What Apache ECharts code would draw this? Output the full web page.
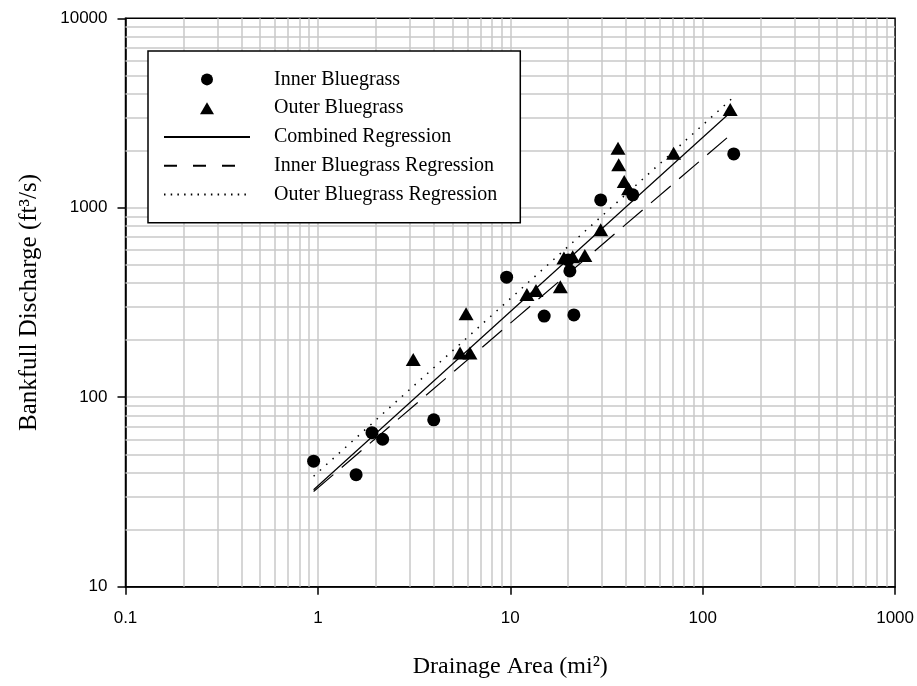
<!DOCTYPE html>
<html><head><meta charset="utf-8">
<script src="https://cdn.jsdelivr.net/npm/echarts@6/dist/echarts.min.js"></script>
<style>html,body{margin:0;padding:0;background:#fff}#c{width:917px;height:686px}</style>
</head><body><div id="c"></div><script>
// Inner Bluegrass observations (drainage area mi², bankfull discharge ft³/s)
const innerArea = [0.95, 1.58, 1.91, 2.17, 4.0, 9.57, 15.0, 21.4, 20.4, 20.0, 29.5, 43.3, 145];
const innerQ    = [46,   39,   65,   60,   76,  430,  268,  272,  464,  530,  1100, 1170, 1925];
// Outer Bluegrass observations
const outerArea = [3.13, 5.89, 5.48, 6.17, 12.2, 13.6, 18.2, 19.0, 21.1, 24.4, 29.5, 36.3, 36.6, 39.1, 41.2, 70.6, 139];
const outerQ    = [158,  276,  171,  171,  348,  366,  383,  543,  552,  559,  766,  2060, 1685, 1375, 1260, 1940, 3300];
// Regression lines (end points)
const combinedArea = [0.95, 140];
const combinedQ    = [32.5, 3200];
const innerRegArea = [0.95, 145];
const innerRegQ    = [31.8, 2510];
const outerRegArea = [0.95, 142];
const outerRegQ    = [38.3, 3770];
// Axis labels and minor grid values
const xTickLabels = ['0.1', '1', '10', '100', '1000'];
const yTickLabels = ['10', '100', '1000', '10000'];
const xMinorGrid = [0.2,0.3,0.4,0.5,0.6,0.7,0.8,0.9, 2,3,4,5,6,7,8,9, 20,30,40,50,60,70,80,90, 200,300,400,500,600,700,800,900];
const yMinorGrid = [20,30,40,50,60,70,80,90, 200,300,400,500,600,700,800,900, 2000,3000,4000,5000,6000,7000,8000,9000];

const zip = (a, b) => a.map((v, i) => [v, b[i]]);
const GRID = '#c8c8c8';
const chart = echarts.init(document.getElementById('c'), null, {renderer: 'canvas'});

const axisCommon = {
  type: 'log', logBase: 10,
  axisLine: {show: true, onZero: false, lineStyle: {color: '#000', width: 1.5}},
  axisTick: {show: true, inside: false, length: 8, lineStyle: {color: '#000', width: 1.5}},
  minorTick: {show: false},
  splitLine: {show: true, showMinLine: false, showMaxLine: false, lineStyle: {color: GRID, width: 1.5}},
  nameLocation: 'middle'
};

chart.setOption({
  animation: false,
  backgroundColor: '#fff',
  grid: {left: 125.5, top: 18.3, width: 770.5, height: 568.4, show: true, borderColor: '#000', borderWidth: 1.5, backgroundColor: 'transparent'},
  xAxis: Object.assign({}, axisCommon, {
    min: 0.1, max: 1000,
    name: 'Drainage Area (mi²)', nameGap: 68,
    nameTextStyle: {fontFamily: 'Liberation Serif', fontSize: 24, color: '#000'},
    axisLabel: {margin: 23, fontFamily: 'Liberation Sans', fontSize: 17, color: '#000',
      formatter: v => xTickLabels[Math.round(Math.log10(v)) + 1]}
  }),
  yAxis: Object.assign({}, axisCommon, {
    min: 10, max: 10000,
    name: 'Bankfull Discharge (ft³/s)', nameGap: 84,
    nameTextStyle: {fontFamily: 'Liberation Serif', fontSize: 25, color: '#000'},
    axisLabel: {margin: 18, fontFamily: 'Liberation Sans', fontSize: 17, color: '#000',
      formatter: v => yTickLabels[Math.round(Math.log10(v)) - 1]}
  }),
  legend: {
    orient: 'vertical', left: 148, top: 51, padding: [14, 23, 14, 15],
    itemWidth: 86, itemHeight: 12, itemGap: 0, symbolKeepAspect: true,
    backgroundColor: '#fff', borderColor: '#000', borderWidth: 1.5, borderRadius: 0,
    selectedMode: false, z: 20,
    textStyle: {fontFamily: 'Liberation Serif', fontSize: 20, color: '#000', lineHeight: 28.75, padding: [0, 0, 0, 19]},
    data: [
      {name: 'Inner Bluegrass', icon: 'circle'},
      {name: 'Outer Bluegrass', icon: 'path://M7,0 L14,12 L0,12 Z'},
      {name: 'Combined Regression', itemStyle: {opacity: 0}},
      {name: 'Inner Bluegrass Regression', itemStyle: {opacity: 0}, lineStyle: {type: [13, 16]}},
      {name: 'Outer Bluegrass Regression', itemStyle: {opacity: 0}, lineStyle: {type: [1.5, 5.2]}}
    ]
  },
  series: [
    {
      name: 'minorGrid', type: 'scatter', data: [], silent: true, z: 1,
      markLine: {
        silent: true, symbol: ['none', 'none'], animation: false,
        label: {show: false}, emphasis: {disabled: true},
        lineStyle: {color: GRID, width: 1.5, type: 'solid'},
        data: xMinorGrid.map(v => ({xAxis: v})).concat(yMinorGrid.map(v => ({yAxis: v})))
      }
    },
    {name: 'Combined Regression', type: 'line', data: zip(combinedArea, combinedQ), symbol: 'none', z: 9,
      lineStyle: {color: '#000', width: 1.2, type: 'solid'}, itemStyle: {color: '#000'}},
    {name: 'Inner Bluegrass Regression', type: 'line', data: zip(innerRegArea, innerRegQ), symbol: 'none', z: 9,
      lineStyle: {color: '#000', width: 1.2, type: [26, 11]}, itemStyle: {color: '#000'}},
    {name: 'Outer Bluegrass Regression', type: 'line', data: zip(outerRegArea, outerRegQ), symbol: 'none', z: 9,
      lineStyle: {color: '#000', width: 1.5, type: [1.5, 7]}, itemStyle: {color: '#000'}},
    {name: 'Inner Bluegrass', type: 'scatter', data: zip(innerArea, innerQ), symbol: 'circle', symbolSize: 13, z: 10,
      itemStyle: {color: '#000', opacity: 1}},
    {name: 'Outer Bluegrass', type: 'scatter', data: zip(outerArea, outerQ), symbol: 'triangle', symbolSize: [15, 13], z: 10,
      itemStyle: {color: '#000', opacity: 1}}
  ]
});
</script></body></html>
